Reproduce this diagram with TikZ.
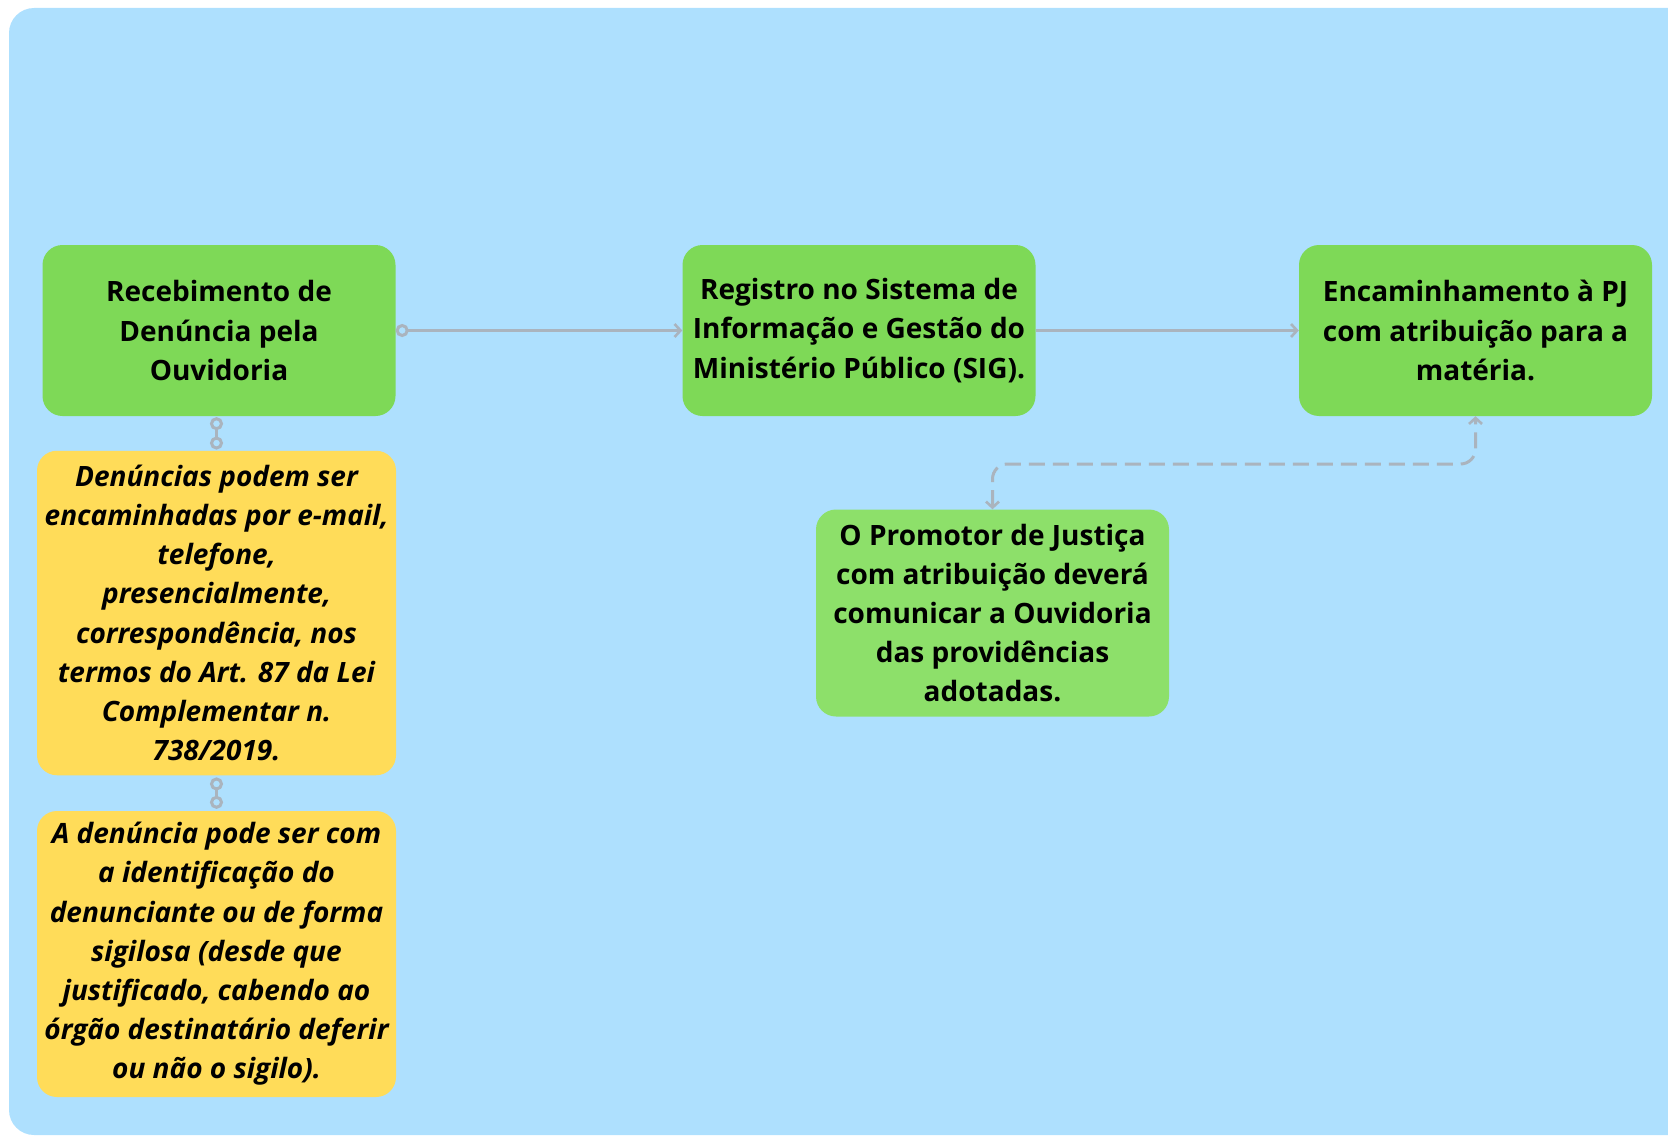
\documentclass[tikz,border=0pt]{standalone}
\usepackage{fontspec}
\setmainfont{Open Sans}
\usetikzlibrary{arrows.meta}
\definecolor{bg}{HTML}{AEE0FE}
\definecolor{grn}{HTML}{7ED957}
\definecolor{grnl}{HTML}{8DE06A}
\definecolor{ylw}{HTML}{FFDC59}
\definecolor{conn}{HTML}{AAB4BE}
\begin{document}
\begin{tikzpicture}[x=1pt,y=-1pt,
  box/.style={rounded corners=20pt, inner sep=0pt, align=center, text=black,
    font=\fontsize{28}{39.2}\selectfont\bfseries},
  gbox/.style={box, fill=grn, minimum width=353pt, minimum height=171pt},
  ybox/.style={box, fill=ylw, minimum width=359pt, font=\fontsize{28}{39.2}\selectfont\bfseries\itshape},
  link/.style={draw=conn, line width=3pt},
  barb/.tip={Straight Barb[length=6pt,width=13pt,line width=2.6pt]},
  ring/.tip={Circle[open,length=13pt,width=13pt,line width=3pt]}
]
\path[use as bounding box] (0,0) rectangle (1668,1137);
\clip (0,0) rectangle (1668,1137);
\fill[bg, rounded corners=25pt] (9,8) rectangle (1720,1135);

\node[gbox] (b1) at (219,330.5) {Recebimento de\\Denúncia pela\\Ouvidoria};
\node[gbox] (b2) at (859,330.5) {Registro no Sistema de\\Informação e Gestão do\\Ministério Público (SIG).};
\node[gbox] (b3) at (1475.5,330.5) {Encaminhamento à PJ\\com atribuição para a\\matéria.};
\node[gbox, fill=grnl, minimum height=207pt] (b4) at (992.5,613) {O Promotor de Justiça\\com atribuição deverá\\comunicar a Ouvidoria\\das providências\\adotadas.};
\node[ybox, minimum height=324.5pt] (y1) at (216.5,613) {Denúncias podem ser\\encaminhadas por e-mail,\\telefone,\\presencialmente,\\correspondência, nos\\termos do Art. 87 da Lei\\Complementar n.\\738/2019.};
\node[ybox, minimum height=286pt] (y2) at (216.5,954) {A denúncia pode ser com\\a identificação do\\denunciante ou de forma\\sigilosa (desde que\\justificado, cabendo ao\\órgão destinatário deferir\\ou não o sigilo).};

\draw[link, {ring}-{barb}] (b1.east) -- (b2.west);
\draw[link, -{barb}] (b2.east) -- (b3.west);
\draw[link, {ring}-{ring}, shorten <=1pt, shorten >=1pt] (y1.north |- b1.south) -- (y1.north);
\draw[link, {ring}-{ring}, shorten <=2pt, shorten >=2pt] (y1.south) -- (y2.north);
\draw[link, dash pattern=on 16pt off 8pt, rounded corners=15pt, {barb}-{barb}]
  (b4.north) -- (b4.north |- 0,464) -- (b3.south |- 0,464) -- (b3.south);
\end{tikzpicture}
\end{document}
